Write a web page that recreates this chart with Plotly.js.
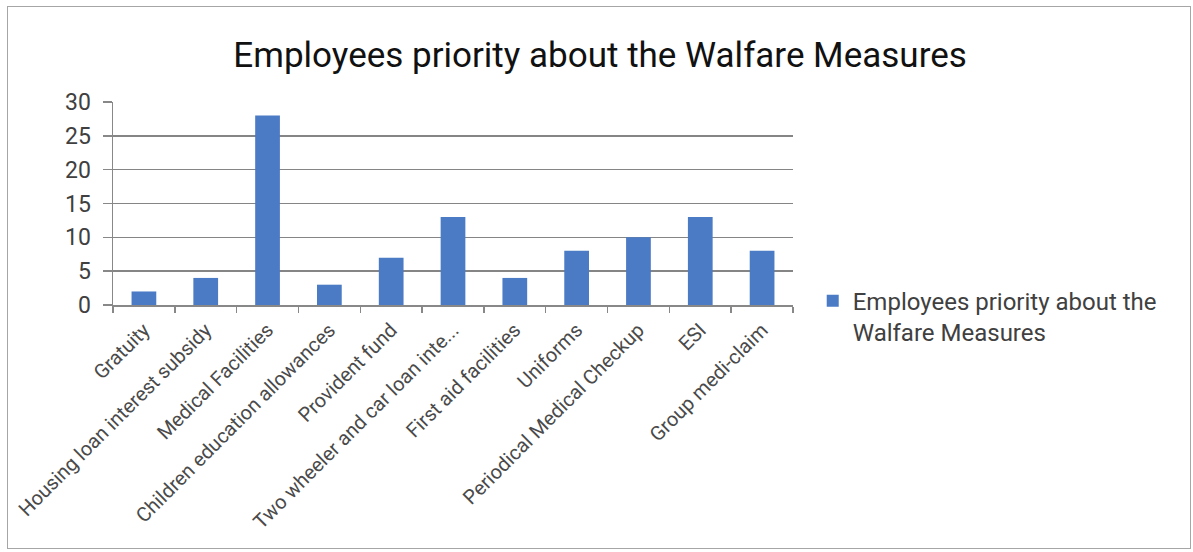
<!DOCTYPE html>
<html>
<head>
<meta charset="utf-8">
<script src="https://cdn.plot.ly/plotly-3.0.1.min.js"></script>
<style>
html,body{margin:0;padding:0;background:#fff;}
#frame{position:absolute;left:7px;top:6px;width:1184px;height:543px;border:1.5px solid #a6a6a6;box-sizing:border-box;}
#chart{position:absolute;left:0;top:0;width:1193px;height:552px;}
</style>
</head>
<body>
<div id="frame"></div>
<div id="chart"></div>
<script>
const categories = ["Gratuity","Housing loan interest subsidy","Medical Facilities","Children education allowances","Provident fund","Two wheeler and car loan inte...","First aid facilities","Uniforms","Periodical Medical Checkup","ESI","Group medi-claim"];
const values = [2,4,28,3,7,13,4,8,10,13,8];
const seriesName = "Employees priority about the<br>Walfare Measures";
const yTicks = [0,5,10,15,20,25,30];

const trace = {
  type: "bar",
  x: categories,
  y: values,
  name: seriesName,
  marker: {color: "#4a7bc4"},
  showlegend: true
};

const layout = {
  width: 1193, height: 552,
  margin: {l: 113, r: 400, t: 102, b: 247},
  paper_bgcolor: "rgba(0,0,0,0)",
  plot_bgcolor: "rgba(0,0,0,0)",
  font: {family: "Roboto, Arial, sans-serif", color: "#404040"},
  title: {text: "Employees priority about the Walfare Measures", x: 0.503, xanchor: "center", y: 0.9, yanchor: "middle",
          font: {size: 35, color: "#111", family: "Roboto, Arial, sans-serif"}},
  bargap: 0.6,
  xaxis: {
    type: "category",
    tickangle: -45,
    tickson: "boundaries",
    ticks: "outside", ticklen: 6, tickcolor: "#888", tickwidth: 1.5,
    ticklabelstandoff: 4,
    showline: true, linecolor: "#888", linewidth: 1.5,
    showgrid: false,
    tickfont: {size: 20, color: "#4a4a4a"},
    automargin: false
  },
  yaxis: {
    range: [0, 30],
    tickvals: yTicks,
    ticks: "outside", ticklen: 9, tickcolor: "#888", tickwidth: 1.5,
    ticklabelstandoff: 7,
    showline: true, linecolor: "#888", linewidth: 1.5,
    showgrid: true, gridcolor: "#858585", gridwidth: 1.6,
    zeroline: false,
    tickfont: {size: 23, color: "#404040"},
    automargin: false
  },
  legend: {
    x: 1.029, xanchor: "left", y: 0.13, yanchor: "top",
    valign: "top",
    font: {size: 24, color: "#404040"},
    itemwidth: 30,
    bgcolor: "rgba(0,0,0,0)"
  }
};

Plotly.newPlot("chart", [trace], layout, {displayModeBar: false, staticPlot: true});
</script>
</body>
</html>
